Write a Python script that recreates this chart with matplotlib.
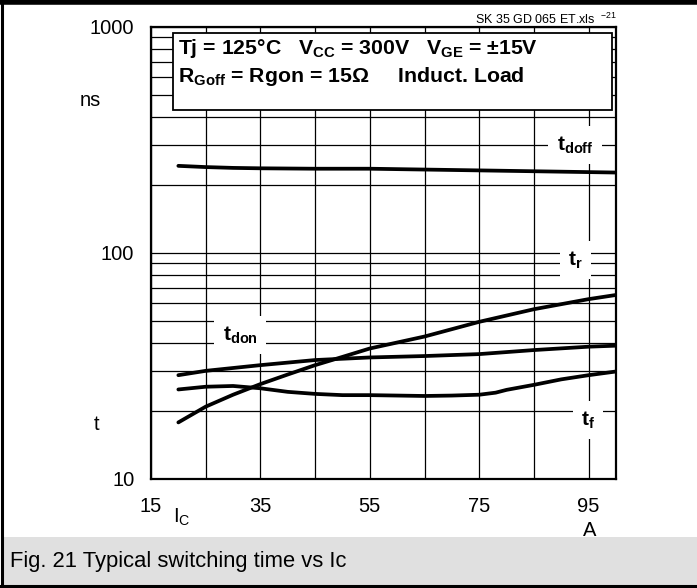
import numpy as np
import matplotlib
matplotlib.use("Agg")
import matplotlib.pyplot as plt
from matplotlib.patches import Rectangle
from matplotlib.ticker import FixedLocator, NullFormatter, LogLocator

plt.rcParams['font.family'] = ['Liberation Sans', 'DejaVu Sans']
plt.rcParams['mathtext.fontset'] = 'custom'
plt.rcParams['mathtext.rm'] = 'Liberation Sans'
plt.rcParams['mathtext.bf'] = 'Liberation Sans:bold'

# 数据 (Ic in A, t in ns)
ic_doff = [20, 25, 30, 35, 45, 55, 65, 75, 85, 100]
t_doff = [243, 240, 238, 237, 236, 236, 234, 232, 230, 227]

ic_r = [20, 25, 30, 35, 40, 45, 50, 55, 65, 75, 85, 95, 100]
t_r = [17.8, 20.9, 23.6, 26.3, 29.0, 31.9, 34.7, 37.8, 42.7, 49.6, 56.4, 62.5, 65.2]

ic_don = [20, 25, 35, 45, 55, 65, 75, 85, 95, 100]
t_don = [28.8, 30.1, 31.9, 33.6, 34.5, 35.0, 35.7, 37.2, 38.5, 38.9]

ic_f = [20, 25, 30, 35, 40, 45, 50, 55, 65, 70, 75, 78, 80, 85, 90, 95, 100]
t_f = [24.9, 25.6, 25.8, 25.2, 24.3, 23.8, 23.5, 23.5, 23.3, 23.4, 23.6, 24.1, 24.8,
       26.1, 27.6, 28.8, 29.9]

x_ticks = [15, 35, 55, 75, 95]
x_grid = [25, 45, 65, 85]
y_ticks = [10, 100, 1000]

W, H = 697, 588
fig = plt.figure(figsize=(W / 100, H / 100), dpi=100)


def fx(px):
    return px / W


def fy(py):
    return 1 - py / H


# 主图
ax = fig.add_axes([fx(151), fy(479), fx(616) - fx(151), fy(27) - fy(479)])
ax.set_yscale('log')
ax.set_xlim(15, 100)
ax.set_ylim(10, 1000)

ax.xaxis.set_major_locator(FixedLocator(x_ticks))
ax.xaxis.set_minor_locator(FixedLocator(x_grid))
ax.yaxis.set_major_locator(FixedLocator(y_ticks))
ax.yaxis.set_minor_locator(LogLocator(base=10, subs=np.arange(2, 10)))
ax.yaxis.set_minor_formatter(NullFormatter())
ax.set_yticklabels(['10', '100', '1000'])
ax.tick_params(which='both', length=0, labelsize=14.5, pad=12)
ax.tick_params(axis='x', pad=13)
ax.grid(True, which='both', color='black', lw=0.9)
for s in ax.spines.values():
    s.set_linewidth(1.6)

for x, y in [(ic_doff, t_doff), (ic_r, t_r), (ic_don, t_don), (ic_f, t_f)]:
    ax.plot(x, y, color='black', lw=2.7, solid_capstyle='round',
            solid_joinstyle='round', zorder=3)

# 曲线标签
lbl = dict(ha='center', va='center', fontsize=15, zorder=4,
           bbox=dict(facecolor='white', edgecolor='none', pad=6))
ax.text(92.5, 300, r'$\mathbf{t_{doff}}$', **lbl)
ax.text(92.6, 93, r'$\mathbf{t_{r}}$', **lbl)
ax.text(31.3, 43.4, r'$\mathbf{t_{don}}$', **lbl)
ax.text(94.9, 18.2, r'$\mathbf{t_{f}}$', **lbl)

# 参数框
fig.patches.append(Rectangle((fx(173), fy(110)), fx(612) - fx(173), fy(33) - fy(110),
                             transform=fig.transFigure, facecolor='white',
                             edgecolor='black', lw=1.3, zorder=5))
fig.text(fx(178), fy(49), r'Tj = 125°C   $\mathbf{V_{CC}}$ = 300V   $\mathbf{V_{GE}}$ = ±15V',
         fontsize=15.3, fontweight='bold', va='center', zorder=6)
fig.text(fx(178), fy(77), r'$\mathbf{R_{Goff}}$ = Rgon = 15Ω     Induct. Load',
         fontsize=15.3, fontweight='bold', va='center', zorder=6)

# 轴标签
fig.text(fx(80), fy(101), 'ns', fontsize=14.5, va='center')
fig.text(fx(94), fy(424), 't', fontsize=14.5, va='center')
fig.text(fx(173), fy(517), r'I$_\mathrm{C}$', fontsize=14.5, va='center')
fig.text(fx(590), fy(530), 'A', fontsize=14.5, va='center', ha='center')
fig.text(fx(617), fy(19), 'SK 35 GD 065 ET.xls  $^{-21}$', fontsize=9,
         ha='right', va='center')

# 标题栏
fig.patches.append(Rectangle((fx(2), fy(585)), fx(697) - fx(2), fy(537) - fy(585),
                             transform=fig.transFigure, facecolor='#e0e0e0',
                             edgecolor='none', zorder=1))
fig.text(fx(10), fy(561), 'Fig. 21 Typical switching time vs Ic', fontsize=15.8, va='center')

# 外框
fig.add_artist(plt.Line2D([0, 1], [fy(2), fy(2)], color='black', lw=4))
fig.add_artist(plt.Line2D([fx(1.5), fx(1.5)], [0, 1], color='black', lw=2.2))
fig.add_artist(plt.Line2D([0, 1], [fy(586), fy(586)], color='black', lw=2.2))

fig.savefig('out.png', dpi=100)
